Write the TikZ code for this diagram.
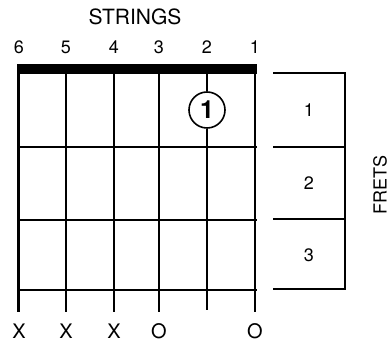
\documentclass[tikz,border=0pt]{standalone}
\usepackage{fontspec}
\setmainfont{TeX Gyre Heros}
\begin{document}
\begin{tikzpicture}[x=1pt,y=-1pt,
  gridline/.style={line width=1.5pt,black},
  lab/.style={font=\fontsize{18}{18}\selectfont,inner sep=0pt},
  big/.style={font=\fontsize{21}{21}\selectfont,inner sep=0pt},
  fretnum/.style={font=\fontsize{18}{18}\selectfont,inner sep=0pt}]
\useasboundingbox (0,0) rectangle (391,344);
% title
\node[big] (title) at (135,17) {STRINGS};
% string numbers
\foreach \n/\x in {6/19,5/66,4/114,3/159,2/207,1/255}
  \node[lab] (s\n) at (\x,47) {\n};
% nut
\fill (17,64) rectangle (257,74);
% strings
\foreach \x in {19,66,114,159,255}
  \draw[gridline] (\x,74) -- (\x,312);
\draw[line width=2.4pt] (18,74) -- (18,312);
% fingered note
\node[draw,circle,line width=1.6pt,minimum size=36pt,inner sep=0pt,
      font=\fontsize{25}{25}\selectfont\bfseries] (f1) at (207,110) {1};
\coordinate (n2) at (207,74);
\coordinate (b2) at (207,310);
\draw[gridline] (n2) -- (f1.north);
\draw[gridline] (f1.south) -- (b2);
% frets
\foreach \y in {147,220,290}
  \draw[gridline] (17,\y) -- (257,\y);
% open / muted markers
\foreach \t/\x [count=\i] in {X/19,X/66,X/114,O/159,O/255}
  \node[font=\fontsize{20}{20}\selectfont,inner sep=0pt] (m\i) at (\x,331) {\t};
% fret box
\draw[gridline] (273,73) -- (345,73) -- (345,289) -- (273,289);
\draw[gridline] (273,147) -- (345,147);
\draw[gridline] (273,219) -- (345,219);
\node[fretnum] (fr1) at (309,110) {1};
\node[fretnum] (fr2) at (309,183) {2};
\node[fretnum] (fr3) at (309,255) {3};
\node[lab,rotate=90] (frets) at (380,185) {FRETS};
\end{tikzpicture}
\end{document}
